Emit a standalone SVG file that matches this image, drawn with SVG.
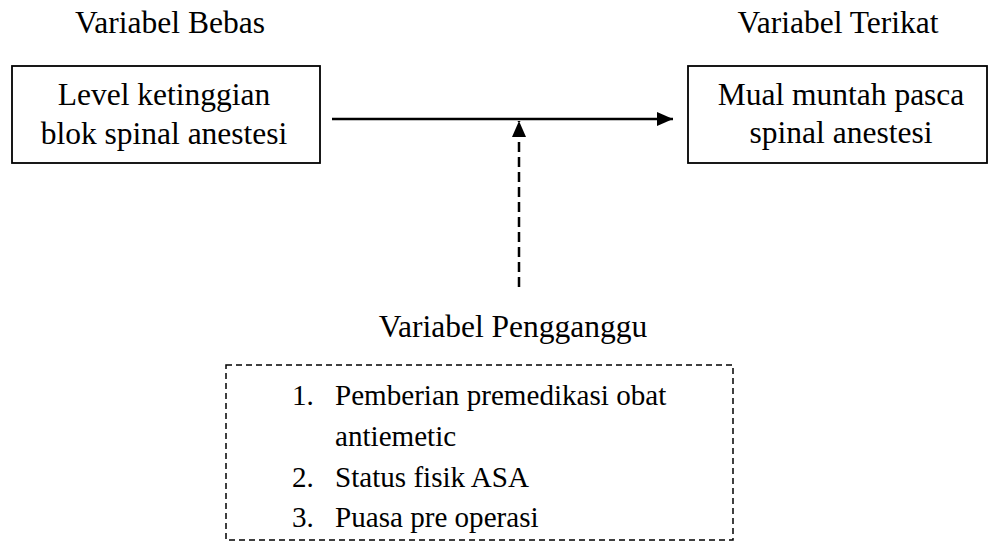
<svg xmlns="http://www.w3.org/2000/svg" width="989" height="549" viewBox="0 0 989 549">
<style>
text{font-family:"Liberation Serif","Times New Roman",serif;font-size:31.5px;fill:#000}
.c{text-anchor:middle}
.li{font-size:29.1px}
.box{fill:#fff;stroke:#000;stroke-width:1.8}
.dbox{fill:none;stroke:#000;stroke-width:1.5;stroke-dasharray:6 4}
.conn{stroke:#000;stroke-width:2.5;fill:none}
</style>
<defs>
<marker id="ah" markerWidth="16" markerHeight="14" refX="16" refY="7" orient="auto" markerUnits="userSpaceOnUse">
<path d="M0,0 L16,7 L0,14 Z" fill="#000"/>
</marker>
</defs>
<rect width="989" height="549" fill="#fff"/>
<g id="label-bebas"><text class="c" x="170" y="33">Variabel Bebas</text></g>
<g id="label-terikat"><text class="c" x="838" y="33">Variabel Terikat</text></g>
<g id="node-bebas">
<rect class="box" x="12" y="66" width="308" height="97"/>
<text class="c" x="164" y="105">Level ketinggian</text>
<text class="c" x="164" y="144">blok spinal anestesi</text>
</g>
<g id="node-terikat">
<rect class="box" x="688" y="66" width="299" height="97"/>
<text class="c" x="841" y="105">Mual muntah pasca</text>
<text class="c" x="841" y="143">spinal anestesi</text>
</g>
<g id="label-pengganggu"><text class="c" x="513" y="337">Variabel Pengganggu</text></g>
<g id="node-pengganggu">
<rect class="dbox" x="226" y="365" width="507" height="175"/>
<text class="li" x="292" y="405">1.</text><text class="li" x="335" y="405">Pemberian premedikasi obat</text>
<text class="li" x="335" y="446">antiemetic</text>
<text class="li" x="292" y="487">2.</text><text class="li" x="335" y="487">Status fisik ASA</text>
<text class="li" x="292" y="527">3.</text><text class="li" x="335" y="527">Puasa pre operasi</text>
</g>
<g id="connectors">
<line class="conn" x1="332" y1="119" x2="673" y2="119" marker-end="url(#ah)"/>
<line class="conn" x1="519" y1="287" x2="519" y2="121" stroke-dasharray="10 5" marker-end="url(#ah)"/>
</g>
</svg>
